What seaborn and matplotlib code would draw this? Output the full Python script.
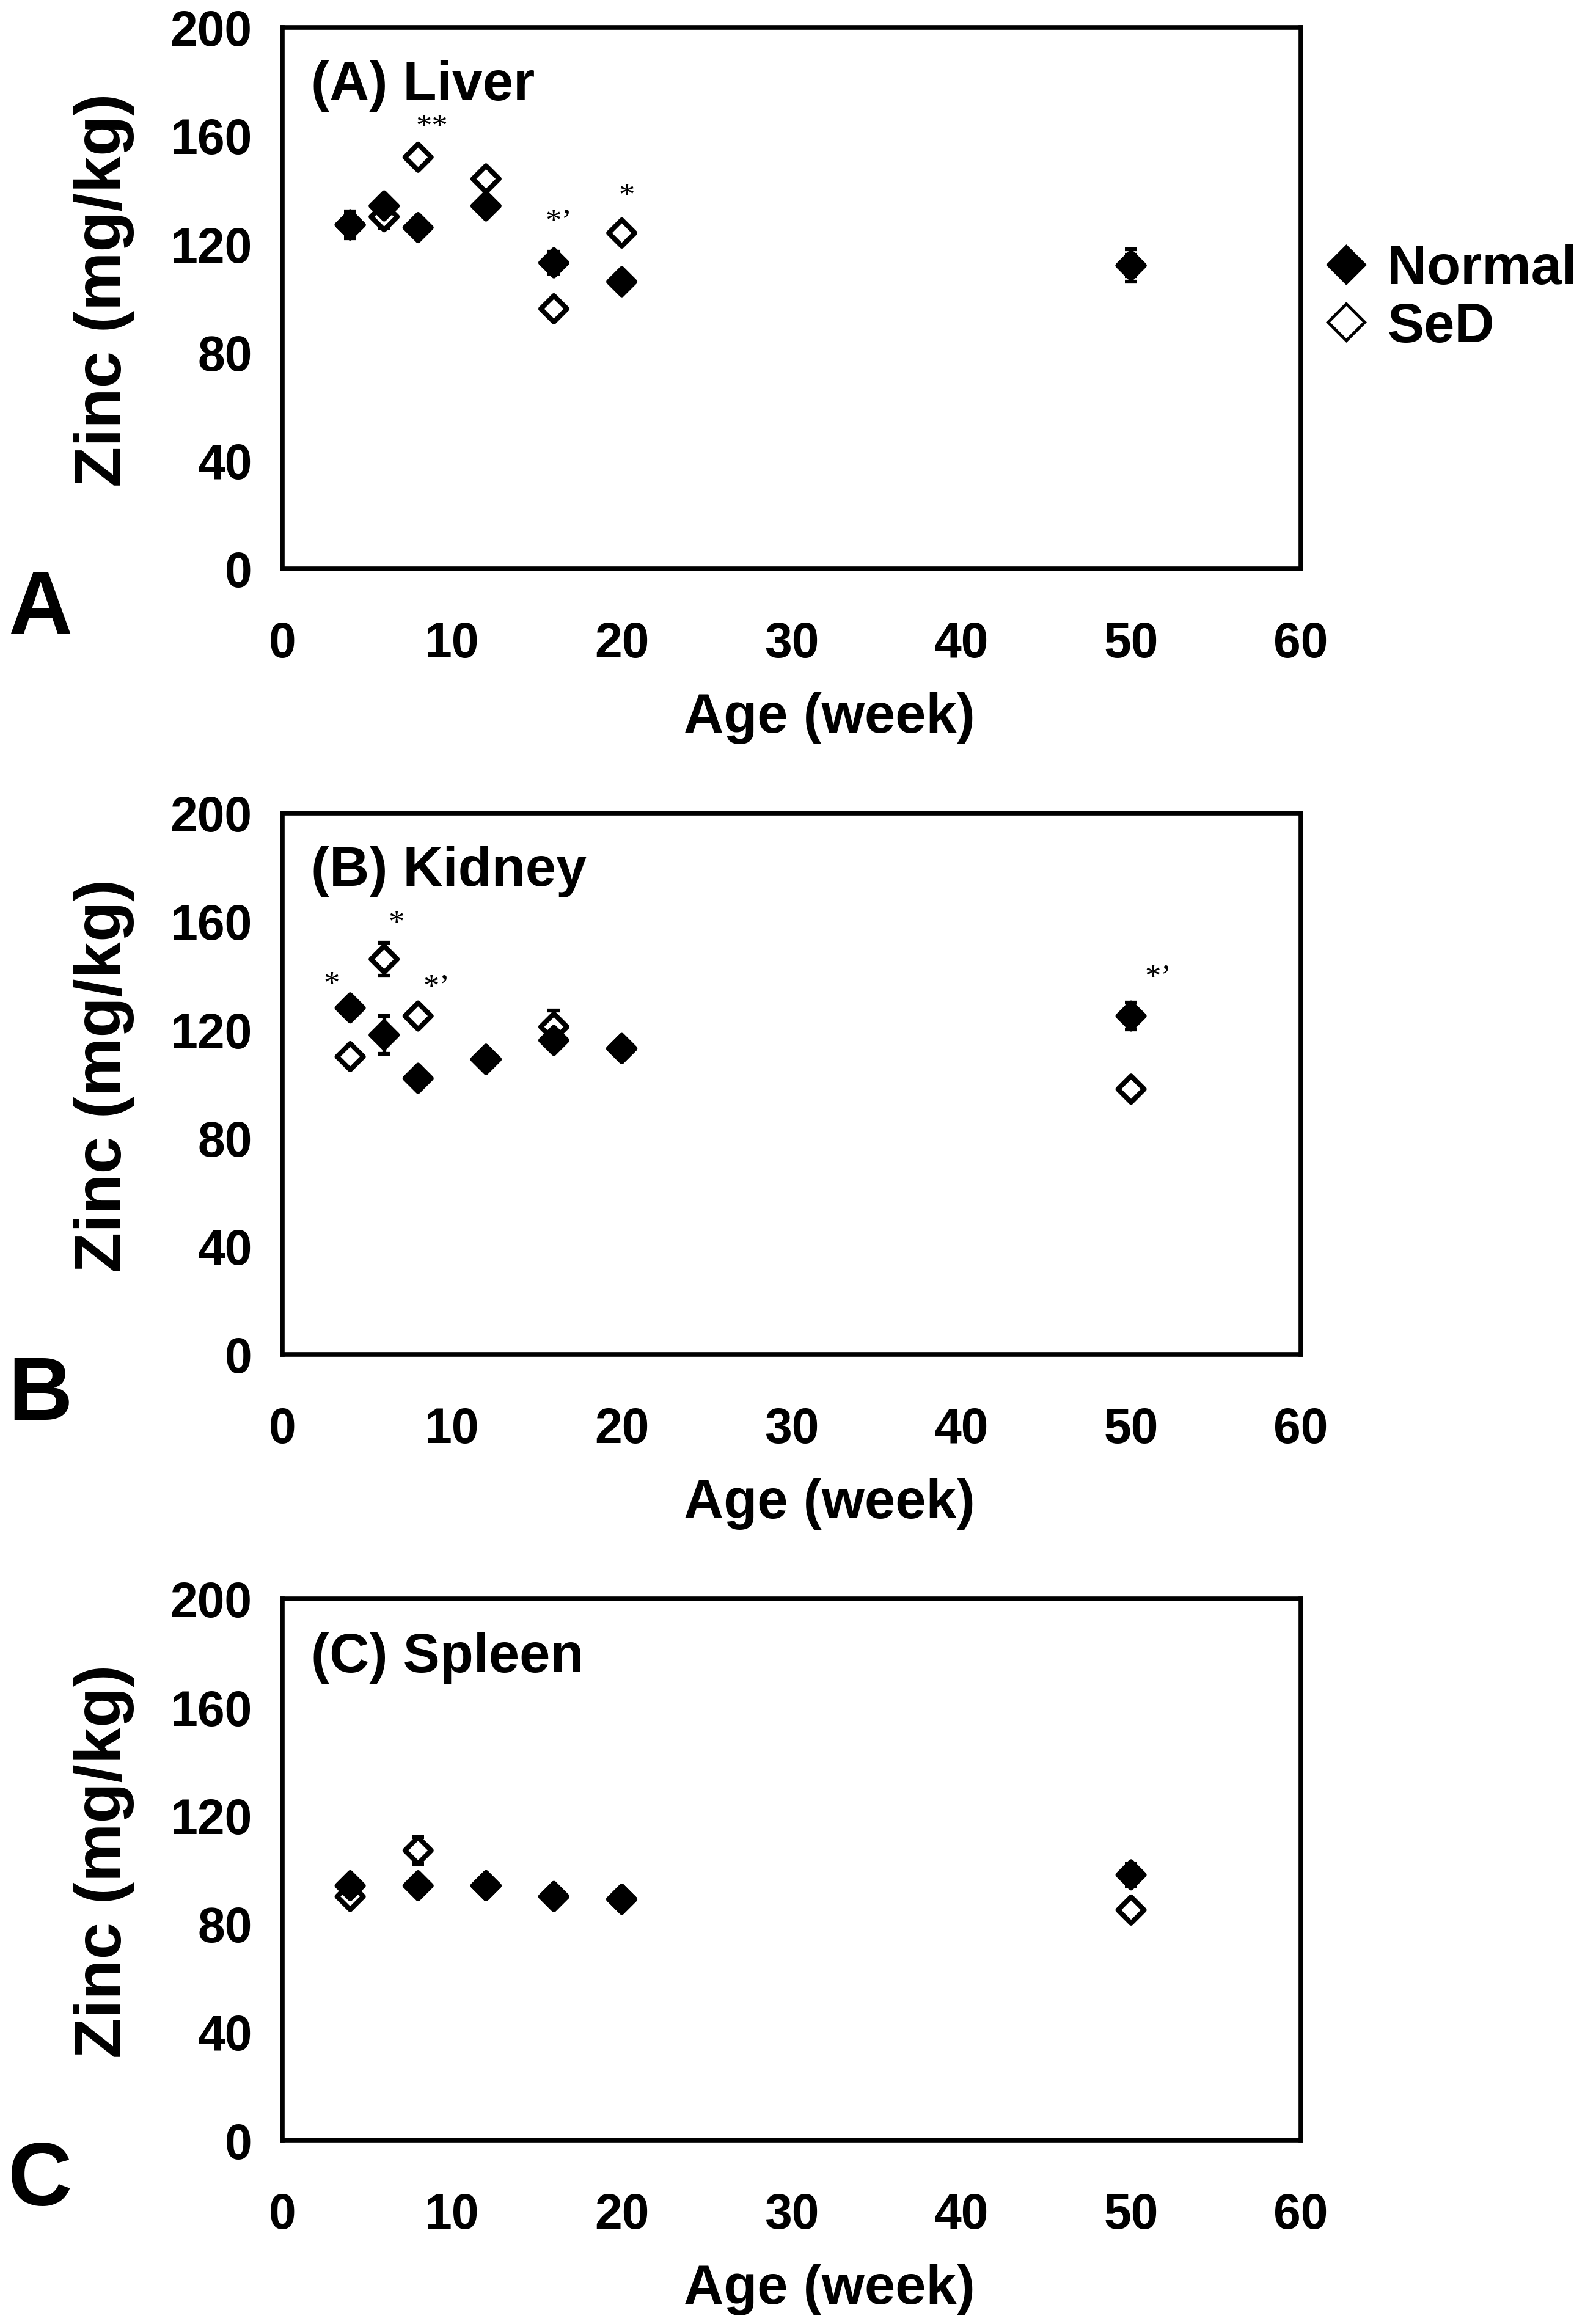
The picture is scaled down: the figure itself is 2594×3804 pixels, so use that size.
import pandas as pd
import matplotlib.pyplot as plt
import seaborn as sns
from matplotlib.lines import Line2D

# ======= Dados =======
semanas = [4, 6, 8, 12, 16, 20, 50]
semanas_baco = [4, 8, 12, 16, 20, 50]

figado_normal = [127, 134, 126, 134, 113, 106, 112]
figado_normal_err = [5, 3, 2, 3, 4, 3, 6]
figado_sed = [127, 130, 152, 144, 96, 124, 112]
figado_sed_err = [4, 4, 2, 2, 2, 2, 4]

rim_normal = [128, 118, 102, 109, 116, 113, 125]
rim_normal_err = [3, 7, 3, 2, 3, 2, 5]
rim_sed = [110, 146, 125, 109, 121, 113, 98]
rim_sed_err = [2, 6, 3, 2, 6, 2, 3]

baco_normal = [94, 94, 94, 90, 89, 98]
baco_normal_err = [3, 2, 2, 2, 3, 4]
baco_sed = [90, 107, 94, 90, 89, 85]
baco_sed_err = [2, 5, 2, 2, 2, 2]

titulos = ["(A) Liver", "(B) Kidney", "(C) Spleen"]
letras = ["A", "B", "C"]
y_ticks = [0, 40, 80, 120, 160, 200]
x_ticks = [0, 10, 20, 30, 40, 50, 60]

# asteriscos de significância: (x, y, texto)
asteriscos = [
    [(8.8, 163, "**"), (16.3, 128, "*\u2019"), (20.3, 137.5, "*")],
    [(2.9, 136.5, "*"), (6.7, 159, "*"), (9.1, 135.5, "*\u2019"), (51.6, 139, "*\u2019")],
    [],
]

paineis = [
    (semanas, figado_normal, figado_normal_err, figado_sed, figado_sed_err),
    (semanas, rim_normal, rim_normal_err, rim_sed, rim_sed_err),
    (semanas_baco, baco_normal, baco_normal_err, baco_sed, baco_sed_err),
]

sns.set_style("white")
plt.rcParams['font.family'] = ['Liberation Sans', 'DejaVu Sans']
plt.rcParams['font.weight'] = 'bold'
plt.rcParams['text.color'] = 'black'
plt.rcParams['axes.labelcolor'] = 'black'
plt.rcParams['xtick.color'] = 'black'
plt.rcParams['ytick.color'] = 'black'

fig = plt.figure(figsize=(25.94, 38.05), dpi=100)
bases = [0.7551, 0.4171, 0.0791]

for i, (x, normal, normal_err, sed, sed_err) in enumerate(paineis):
    ax = fig.add_axes([0.1781, bases[i], 0.6426, 0.2329])

    # SeD primeiro para que Normal fique por cima
    df = pd.DataFrame({
        "Age": list(x) + list(x),
        "Zinc": list(sed) + list(normal),
        "Grupo": ["SeD"] * len(x) + ["Normal"] * len(x),
    })

    ax.errorbar(x, sed, yerr=sed_err, fmt='none', ecolor='black',
                elinewidth=4.5, capsize=7.5, capthick=4.5, zorder=2)
    ax.errorbar(x, normal, yerr=normal_err, fmt='none', ecolor='black',
                elinewidth=4.5, capsize=7.5, capthick=4.5, zorder=2)
    sns.scatterplot(data=df, x="Age", y="Zinc", hue="Grupo",
                    palette={"Normal": "black", "SeD": "white"},
                    marker="D", s=480, edgecolor="black", linewidth=5.8,
                    legend=False, ax=ax, zorder=3)

    for ax_x, ax_y, txt in asteriscos[i]:
        ax.text(ax_x, ax_y, txt, ha='center', va='center', fontsize=38,
                color='black', family=['Liberation Serif', 'DejaVu Serif'],
                fontweight='normal')

    ax.text(0.028, 0.866, titulos[i], transform=ax.transAxes,
            fontsize=65, fontweight='bold', va='baseline', ha='left')

    ax.set_xlim(0, 60)
    ax.set_ylim(0, 200)
    ax.set_xticks(x_ticks)
    ax.set_yticks(y_ticks)
    ax.tick_params(axis='both', direction='out', length=14.5, width=4.5,
                   color='black', labelsize=58, labelcolor='black')
    ax.tick_params(axis='x', pad=47)
    ax.tick_params(axis='y', pad=21)
    for lab in ax.get_xticklabels() + ax.get_yticklabels():
        lab.set_fontweight('bold')

    for sp in ax.spines.values():
        sp.set_visible(True)
        sp.set_color('black')
        sp.set_linewidth(5.5)

    ax.set_xlabel("Age (week)", fontsize=65, fontweight='bold', va='top')
    ax.xaxis.set_label_coords(0.537, -0.227)
    ax.set_ylabel("Zinc (mg/kg)", fontsize=78, fontweight='bold', va='center')
    ax.yaxis.set_label_coords(-0.175, 0.516)

    fig.text(66 / 2594, 1 - (1000 + 1286 * i) / 3805, letras[i],
             fontsize=105, fontweight='bold', ha='center', va='center')

# ======= Legenda =======
handles = [
    Line2D([], [], marker='D', linestyle='none', markersize=31,
           markerfacecolor='black', markeredgecolor='black', markeredgewidth=3.5),
    Line2D([], [], marker='D', linestyle='none', markersize=31,
           markerfacecolor='white', markeredgecolor='black', markeredgewidth=3.5),
]
fig.legend(handles, ["Normal", "SeD"], loc='center left',
           bbox_to_anchor=(2122 / 2594, 1 - 489 / 3805),
           frameon=False, borderpad=0, handlelength=0.8, handletextpad=0.34,
           labelspacing=0.1, prop={'size': 65, 'weight': 'bold'})

fig.savefig("out.png", dpi=100)
